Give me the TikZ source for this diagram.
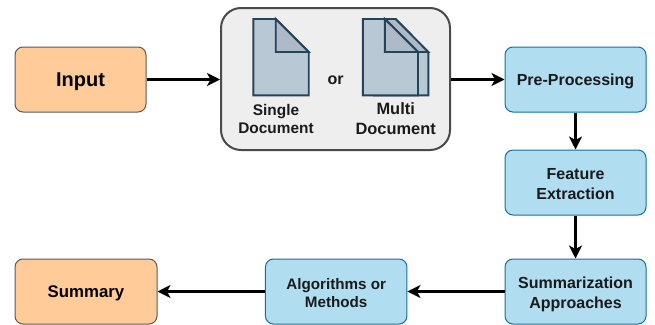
\documentclass[tikz,border=0pt]{standalone}
\usepackage{fontspec}
\setmainfont{Liberation Sans}
\usetikzlibrary{arrows.meta}
\definecolor{orangefill}{HTML}{FFCC99}
\definecolor{bluefill}{HTML}{B1DDF0}
\definecolor{blueline}{HTML}{10739E}
\definecolor{grayfill}{HTML}{EEEEEE}
\definecolor{grayline}{HTML}{4A4A4A}
\definecolor{docfill}{HTML}{B9C8D5}
\definecolor{docfold}{HTML}{AEBBC6}
\definecolor{docline}{HTML}{23445D}
\definecolor{txt}{HTML}{1A1A1A}
\newcommand\dn[1]{\rule{0pt}{#1pt}}
\tikzset{
  orangebox/.style={draw=black!65,line width=1pt,fill=orangefill,rounded corners=8pt,minimum height=65pt,inner sep=0pt,align=center,text=black},
  bluebox/.style={draw=blueline,line width=1pt,fill=bluefill,rounded corners=8pt,minimum height=65pt,minimum width=141pt,inner sep=0pt,align=center,font=\fontsize{16}{20}\selectfont\bfseries,text=txt},
  group/.style={draw=grayline,line width=2pt,fill=grayfill,rounded corners=20pt,inner sep=0pt},
  doc/.style={draw=docline,line width=1.9pt,fill=docfill,line join=miter},
  fold/.style={draw=docline,line width=1.9pt,fill=docfold,line join=miter},
  label/.style={inner sep=0pt,align=center,text=txt},
  flow/.style={-{Stealth[length=13pt,width=13pt,inset=3.5pt]},line width=2.1pt,black},
}
\begin{document}
\begin{tikzpicture}[x=1pt,y=-1pt]
\useasboundingbox (0,0) rectangle (655,324);
\clip (0,0) rectangle (655,324);
\node[orangebox,minimum width=131pt,font=\fontsize{20}{24}\selectfont\bfseries] (input) at (80.5,79.5) {\dn{18.5}Input};
\node[orangebox,minimum width=142pt,font=\fontsize{16.8}{20}\selectfont\bfseries] (summary) at (86,291.5) {\dn{16}Summary};
\node[group,minimum width=229pt,minimum height=142pt] (group) at (335.5,79) {};
\node[bluebox] (pre) at (575.5,79.5) {\dn{15.6}Pre-Processing};
\node[bluebox] (feat) at (575.5,182.5) {\dn{13.6}Feature\\Extraction};
\node[bluebox] (appr) at (575.5,291.5) {\dn{17.6}Summarization\\Approaches};
\node[bluebox,minimum width=141.5pt,font=\fontsize{15.2}{18}\selectfont\bfseries] (algo) at (336.2,291.5) {\dn{13.6}Algorithms or\\Methods};
% single document
\draw[doc] (253.3,19) -- (275.7,19) -- (308.7,52) -- (308.7,95.3) -- (253.3,95.3) -- cycle;
\draw[fold] (275.7,19) -- (308.7,52) -- (275.7,52) -- cycle;
% multi document
\draw[doc] (374,19) -- (395.5,19) -- (428.3,52) -- (428.3,95.3) -- (374,95.3) -- cycle;
\draw[fold] (385,19) -- (395.5,19) -- (428.3,52) -- (418,52) -- cycle;
\draw[doc] (362.8,19) -- (384.8,19) -- (418,52) -- (418,95.3) -- (362.8,95.3) -- cycle;
\draw[fold] (384.8,19) -- (418,52) -- (384.8,52) -- cycle;
\node[label,font=\fontsize{15.4}{17.5}\selectfont\bfseries] (single) at (276,119) {Single\\Document};
\node[label,font=\fontsize{16}{20}\selectfont\bfseries] (or) at (335.7,80) {or};
\node[label,font=\fontsize{16.4}{20}\selectfont\bfseries] (multi) at (395.7,118.5) {Multi\\Document};
\draw[flow] (input) -- (group.west |- input);
\draw[flow] (group.east |- pre) -- (pre);
\draw[flow] (pre) -- (feat);
\draw[flow] (feat) -- (appr);
\draw[flow] (appr) -- (algo);
\draw[flow] (algo) -- (summary);
\end{tikzpicture}
\end{document}
